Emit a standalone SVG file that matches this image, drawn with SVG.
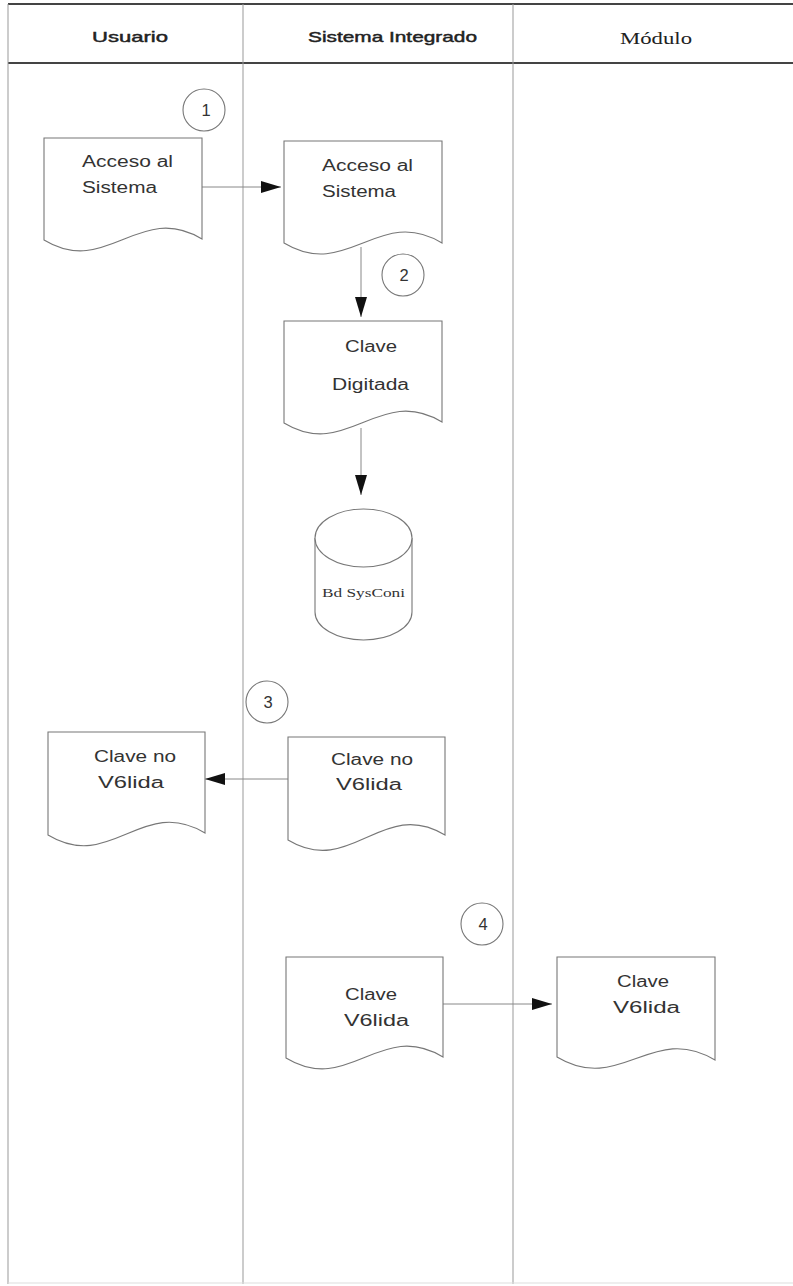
<svg xmlns="http://www.w3.org/2000/svg" width="793" height="1286" viewBox="0 0 793 1286">
<style>
.hdr{stroke:#444;stroke-width:2;fill:none}
.lane{stroke:#999;stroke-width:1;fill:none}
.doc{fill:#fff;stroke:#777;stroke-width:1.1}
.t{font-family:"Liberation Sans",Arial,sans-serif;font-size:16px;fill:#333}
.h{font-family:"Liberation Sans",Arial,sans-serif;font-size:15px;font-weight:normal;fill:#222;stroke:#222;stroke-width:0.45}
.hs{font-family:"Liberation Serif","Times New Roman",serif;font-size:16px;fill:#222}
.num{font-family:"Liberation Sans",Arial,sans-serif;font-size:16.5px;fill:#333;text-anchor:middle}
.circ{fill:#fff;stroke:#777;stroke-width:1.1}
.conn{stroke:#888;stroke-width:1;fill:none;marker-end:url(#ah)}
</style>
<defs>
<marker id="ah" markerUnits="userSpaceOnUse" markerWidth="21" markerHeight="13" refX="20" refY="6" orient="auto">
<path d="M0,0 L20,6 L0,12 Z" fill="#111"/>
</marker>
</defs>
<rect x="0" y="0" width="793" height="1286" fill="#fff"/>
<g id="lanes">
<line class="hdr" x1="8" y1="4" x2="793" y2="4"/>
<line class="hdr" x1="8" y1="63" x2="793" y2="63"/>
<line class="lane" x1="8" y1="4" x2="8" y2="1284"/>
<line class="lane" x1="243" y1="4" x2="243" y2="1284"/>
<line class="lane" x1="513" y1="4" x2="513" y2="1284"/>
<line x1="8" y1="1283" x2="793" y2="1283" stroke="#ddd" stroke-width="1"/>
<text class="h" x="92" y="42" textLength="76" lengthAdjust="spacingAndGlyphs">Usuario</text>
<text class="h" x="308" y="42" textLength="169" lengthAdjust="spacingAndGlyphs">Sistema Integrado</text>
<text class="hs" x="620" y="44" textLength="72" lengthAdjust="spacingAndGlyphs">Módulo</text>
</g>
<g id="connectors">
<line class="conn" x1="202" y1="187" x2="281" y2="187"/>
<line class="conn" x1="361" y1="247" x2="361" y2="317"/>
<line class="conn" x1="361" y1="428" x2="361" y2="495"/>
<line class="conn" x1="288" y1="779" x2="205" y2="779"/>
<line class="conn" x1="443" y1="1004" x2="552" y2="1004"/>
</g>
<g id="n1">
<path class="doc" d="M44,138 H202 V239 C139,201 107,278 44,240 Z"/>
<text class="t" x="82" y="167" textLength="91" lengthAdjust="spacingAndGlyphs">Acceso al</text>
<text class="t" x="82" y="193" textLength="75" lengthAdjust="spacingAndGlyphs">Sistema</text>
</g>
<g id="c1">
<circle class="circ" cx="204" cy="110" r="21"/>
<text class="num" x="206" y="116">1</text>
</g>
<g id="n2">
<path class="doc" d="M284,141 H442 V243 C379,205 347,281 284,243 Z"/>
<text class="t" x="322" y="171" textLength="91" lengthAdjust="spacingAndGlyphs">Acceso al</text>
<text class="t" x="322" y="197" textLength="74" lengthAdjust="spacingAndGlyphs">Sistema</text>
</g>
<g id="c2">
<circle class="circ" cx="403" cy="275" r="21"/>
<text class="num" x="404" y="281">2</text>
</g>
<g id="n3">
<path class="doc" d="M284,321 H442 V422 C379,384 347,461 284,423 Z"/>
<text class="t" x="345" y="352" textLength="52" lengthAdjust="spacingAndGlyphs">Clave</text>
<text class="t" x="332" y="390" textLength="77" lengthAdjust="spacingAndGlyphs">Digitada</text>
</g>
<g id="db">
<path class="doc" d="M315,538 V612 A48.5,28 0 0 0 412,612 V538"/>
<ellipse class="doc" cx="363.5" cy="538" rx="48.5" ry="29"/>
<text x="322" y="597" font-family="Liberation Serif,Times New Roman,serif" font-size="13" fill="#333" textLength="83" lengthAdjust="spacingAndGlyphs">Bd  SysConi</text>
</g>
<g id="c3">
<circle class="circ" cx="267" cy="702" r="21"/>
<text class="num" x="268" y="708">3</text>
</g>
<g id="n4">
<path class="doc" d="M48,732 H205 V833 C142,795 111,873 48,835 Z"/>
<text class="t" x="94" y="762" textLength="82" lengthAdjust="spacingAndGlyphs">Clave no</text>
<text class="t" x="98" y="788" textLength="66" lengthAdjust="spacingAndGlyphs">V6lida</text>
</g>
<g id="n5">
<path class="doc" d="M288,737 H445 V835 C382,797 351,878 288,840 Z"/>
<text class="t" x="331" y="765" textLength="82" lengthAdjust="spacingAndGlyphs">Clave no</text>
<text class="t" x="336" y="790" textLength="66" lengthAdjust="spacingAndGlyphs">V6lida</text>
</g>
<g id="c4">
<circle class="circ" cx="482" cy="924" r="21"/>
<text class="num" x="483" y="930">4</text>
</g>
<g id="n6">
<path class="doc" d="M286,957 H443 V1057 C380,1019 349,1096 286,1058 Z"/>
<text class="t" x="345" y="1000" textLength="52" lengthAdjust="spacingAndGlyphs">Clave</text>
<text class="t" x="344" y="1026" textLength="65" lengthAdjust="spacingAndGlyphs">V6lida</text>
</g>
<g id="n7">
<path class="doc" d="M557,957 H715 V1060 C652,1022 620,1095 557,1057 Z"/>
<text class="t" x="617" y="987" textLength="52" lengthAdjust="spacingAndGlyphs">Clave</text>
<text class="t" x="613" y="1013" textLength="67" lengthAdjust="spacingAndGlyphs">V6lida</text>
</g>
</svg>
